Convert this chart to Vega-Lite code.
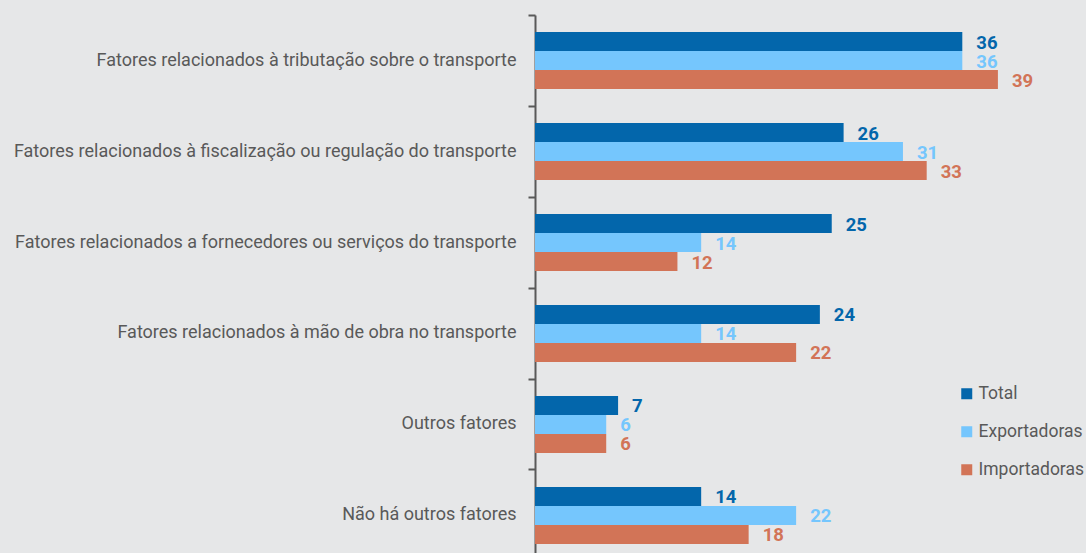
{
  "$schema": "https://vega.github.io/schema/vega-lite/v6.json",
  "width": 546,
  "height": 546,
  "autosize": "none",
  "padding": {"left": 535, "top": 15, "right": 5, "bottom": 0},
  "background": "#e6e7e8",
  "config": {"view": {"stroke": null}, "font": "Roboto"},
  "data": {"values": [
    {"categoria": "Fatores relacionados à tributação sobre o transporte", "serie": "Total", "valor": 36},
    {"categoria": "Fatores relacionados à tributação sobre o transporte", "serie": "Exportadoras", "valor": 36},
    {"categoria": "Fatores relacionados à tributação sobre o transporte", "serie": "Importadoras", "valor": 39},
    {"categoria": "Fatores relacionados à fiscalização ou regulação do transporte", "serie": "Total", "valor": 26},
    {"categoria": "Fatores relacionados à fiscalização ou regulação do transporte", "serie": "Exportadoras", "valor": 31},
    {"categoria": "Fatores relacionados à fiscalização ou regulação do transporte", "serie": "Importadoras", "valor": 33},
    {"categoria": "Fatores relacionados a fornecedores ou serviços do transporte", "serie": "Total", "valor": 25},
    {"categoria": "Fatores relacionados a fornecedores ou serviços do transporte", "serie": "Exportadoras", "valor": 14},
    {"categoria": "Fatores relacionados a fornecedores ou serviços do transporte", "serie": "Importadoras", "valor": 12},
    {"categoria": "Fatores relacionados à mão de obra no transporte", "serie": "Total", "valor": 24},
    {"categoria": "Fatores relacionados à mão de obra no transporte", "serie": "Exportadoras", "valor": 14},
    {"categoria": "Fatores relacionados à mão de obra no transporte", "serie": "Importadoras", "valor": 22},
    {"categoria": "Outros fatores", "serie": "Total", "valor": 7},
    {"categoria": "Outros fatores", "serie": "Exportadoras", "valor": 6},
    {"categoria": "Outros fatores", "serie": "Importadoras", "valor": 6},
    {"categoria": "Não há outros fatores", "serie": "Total", "valor": 14},
    {"categoria": "Não há outros fatores", "serie": "Exportadoras", "valor": 22},
    {"categoria": "Não há outros fatores", "serie": "Importadoras", "valor": 18}
  ]},
  "encoding": {
    "y": {
      "field": "categoria", "type": "nominal", "sort": null,
      "scale": {"paddingInner": 0.3736, "paddingOuter": 0.187},
      "axis": {
        "title": null, "bandPosition": -0.298,
        "tickSize": 7, "tickWidth": 2, "tickColor": "#595959",
        "domainColor": "#595959", "domainWidth": 2,
        "labelFontSize": 18, "labelColor": "#595959", "labelPadding": 12,
        "labelLimit": 600, "grid": false
      }
    },
    "yOffset": {
      "field": "serie", "sort": ["Total", "Exportadoras", "Importadoras"],
      "scale": {"paddingInner": 0, "paddingOuter": 0}
    },
    "x": {"field": "valor", "type": "quantitative", "scale": {"domain": [0, 46]}, "axis": null},
    "color": {
      "field": "serie", "type": "nominal",
      "scale": {"domain": ["Total", "Exportadoras", "Importadoras"], "range": ["#0366ab", "#75c6fd", "#d27457"]},
      "legend": {
        "title": null, "orient": "none", "legendX": 423, "legendY": 370,
        "symbolType": "square", "symbolSize": 121, "symbolStrokeWidth": 0,
        "labelFontSize": 17.5, "labelColor": "#595959", "rowPadding": 19, "labelOffset": 3
      }
    }
  },
  "layer": [
    {"mark": {"type": "bar"}},
    {
      "mark": {"type": "text", "align": "left", "baseline": "middle", "dx": 14, "dy": 1, "fontWeight": "bold", "fontSize": 18.5},
      "encoding": {"text": {"field": "valor", "type": "quantitative"}}
    }
  ]
}
